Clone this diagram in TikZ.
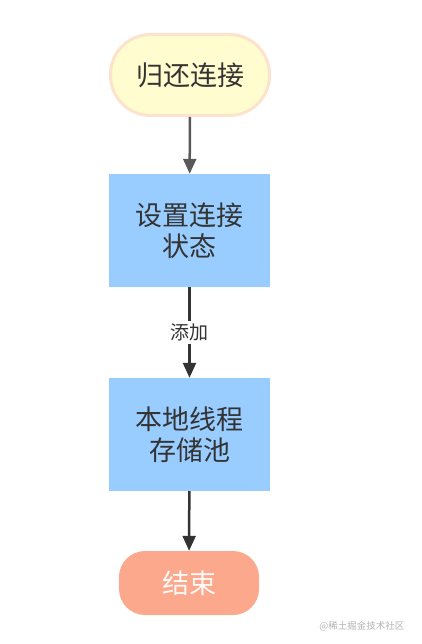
\documentclass[tikz,border=0pt]{standalone}
\usepackage{fontspec}
\setmainfont{Noto Sans CJK SC}
\usetikzlibrary{arrows.meta}

\definecolor{startfill}{HTML}{FFFCCF}
\definecolor{startline}{HTML}{FDE2CC}
\definecolor{boxblue}{HTML}{99CCFF}
\definecolor{endfill}{HTML}{FBA88D}
\definecolor{inkgray}{HTML}{333333}

\begin{document}
\begin{tikzpicture}[x=1pt, y=1pt,
    txt/.style={text=inkgray, font=\fontsize{27}{31}\selectfont, align=center},
    startbox/.style={txt, draw=startline, line width=3pt, fill=startfill,
      rounded corners=40pt, minimum width=159pt, minimum height=81pt},
    stepbox/.style={txt, fill=boxblue, minimum width=161pt, minimum height=113pt},
    endbox/.style={txt, text=white!93!endfill, fill=endfill, rounded corners=26pt,
      minimum width=140pt, minimum height=64pt},
    flow/.style={line width=2.5pt, draw=inkgray,
      -{Triangle[length=15pt, width=13pt]}}]
  \useasboundingbox (0,0) rectangle (421,-644);
  % nodes
  \node[startbox] (giveback) at (190,-75) {归还连接};
  \node[stepbox] (setstate) at (189.5,-230.5) {设置连接\\状态};
  \node[stepbox] (pool) at (189.5,-434.5) {本地线程\\存储池};
  \node[endbox] (finish) at (189,-583) {结束};
  % connectors
  \draw[flow, draw=black!65] (giveback) -- (setstate);
  \draw[flow] (setstate) -- node[fill=white, text=inkgray, inner sep=3pt,
    font=\fontsize{19}{22}\selectfont] (addlbl) {添加} (pool);
  \draw[flow] (pool) -- (finish);
  % watermark
  \node[text=black!30, font=\fontsize{9.5}{11}\selectfont, anchor=east]
    (mark) at (408,-626) {@稀土掘金技术社区};
\end{tikzpicture}
\end{document}
